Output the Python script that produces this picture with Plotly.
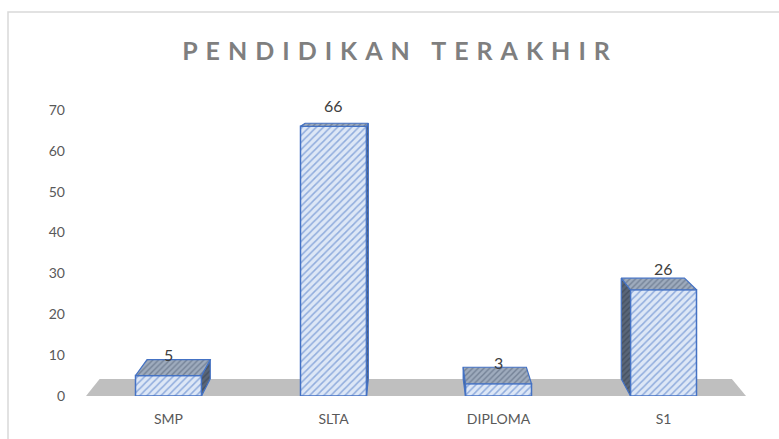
import plotly.graph_objects as go

categories = ["SMP", "SLTA", "DIPLOMA", "S1"]
values = [5, 66, 3, 26]
y_ticks = [0, 10, 20, 30, 40, 50, 60, 70]
title_text = "PENDIDIKAN TERAKHIR"

# ---- geometry helpers (pixel <-> data), used only for the 3D decoration ----
W, H = 779, 439
L, R, T, B = 86, 33, 110, 43
X_RANGE = [-0.5, len(categories) - 0.5]
Y_RANGE = [0, 70]
plot_w = W - L - R
plot_h = H - T - B
ppx = plot_w / (X_RANGE[1] - X_RANGE[0])
ppy = plot_h / (Y_RANGE[1] - Y_RANGE[0])
VX, VY = 410, 67          # vanishing point (pixels)
KX, KY = 0.042, 0.052     # depth factors
BAR_W = 0.4


def to_px(xd, yd):
    return L + (xd - X_RANGE[0]) * ppx, T + plot_h - (yd - Y_RANGE[0]) * ppy


def to_data(px, py):
    return X_RANGE[0] + (px - L) / ppx, Y_RANGE[0] + (T + plot_h - py) / ppy


def back(xd, yd):
    px, py = to_px(xd, yd)
    return to_data(px + KX * (VX - px), py - KY * (py - VY))


BLUE = "#4472c4"
fig = go.Figure()

# front faces
fig.add_trace(go.Bar(
    x=list(range(len(categories))), y=values, width=BAR_W,
    marker=dict(color="#dbe5f5", line=dict(color=BLUE, width=1.5),
                pattern=dict(shape="/", fgcolor=BLUE, bgcolor="#dde7f6",
                             size=5, solidity=0.3)),
    hoverinfo="skip", showlegend=False,
))

# side and top faces
for i, v in enumerate(values):
    xl, xr = i - BAR_W / 2, i + BAR_W / 2
    cx, _ = to_px(i, 0)
    xe = xr if cx < VX else xl
    pts = [(xe, 0), (xe, v), back(xe, v), back(xe, 0), (xe, 0)]
    fig.add_trace(go.Scatter(
        x=[p[0] for p in pts], y=[p[1] for p in pts], mode="lines",
        fill="toself", fillcolor="#5a6678",
        fillpattern=dict(shape="/", fgcolor="#2f3a4a", bgcolor="#5a6678",
                         size=4, solidity=0.35),
        line=dict(color=BLUE, width=1.2), hoverinfo="skip", showlegend=False))
    pts = [(xl, v), (xr, v), back(xr, v), back(xl, v), (xl, v)]
    fig.add_trace(go.Scatter(
        x=[p[0] for p in pts], y=[p[1] for p in pts], mode="lines",
        fill="toself", fillcolor="#9eabbd",
        fillpattern=dict(shape="/", fgcolor="#4a5970", bgcolor="#9eabbd",
                         size=4, solidity=0.35),
        line=dict(color=BLUE, width=1.2), hoverinfo="skip", showlegend=False))

# data labels
for i, v in enumerate(values):
    fig.add_annotation(x=i, y=v, text=str(v), showarrow=False, yshift=21,
                       font=dict(family="Lato", size=16, color="#404040"))

# floor
fl0, fr0 = X_RANGE[0], X_RANGE[1]
bl, br = back(fl0, 0), back(fr0, 0)
fig.add_shape(type="path", layer="below", line=dict(width=0),
              fillcolor="#bfbfbf", xref="x", yref="y",
              path=f"M {fl0},0 L {fr0},0 L {br[0]},{br[1]} L {bl[0]},{bl[1]} Z")

# chart border
fig.add_shape(type="rect", xref="paper", yref="paper",
              x0=(8 - L) / plot_w, x1=(W + 20 - L) / plot_w,
              y0=(T + plot_h - (H + 20)) / plot_h, y1=(T + plot_h - 12) / plot_h,
              line=dict(color="#d9d9d9", width=1.5), fillcolor="rgba(0,0,0,0)")

fig.update_layout(
    width=W, height=H,
    margin=dict(l=L, r=R, t=T, b=B),
    paper_bgcolor="white", plot_bgcolor="white",
    title=dict(text=title_text, x=400 / W, xanchor="center",
               y=1 - 51 / H, yanchor="middle", yref="container",
               font=dict(family="Lato", size=25, color="#7f7f7f", weight="bold")),
    xaxis=dict(range=X_RANGE, tickmode="array",
               tickvals=list(range(len(categories))), ticktext=categories,
               showgrid=False, zeroline=False, showline=False, ticks="",
               ticklabelstandoff=13,
               tickfont=dict(family="Lato", size=14, color="#595959"),
               fixedrange=True),
    yaxis=dict(range=Y_RANGE, tickmode="array", tickvals=y_ticks,
               showgrid=False, zeroline=False, showline=False, ticks="",
               ticklen=0, ticklabelstandoff=20,
               tickfont=dict(family="Lato", size=14, color="#595959"),
               fixedrange=True),
    bargap=0.6, showlegend=False,
)

fig.write_html(
    "out.html", config={"displayModeBar": False},
    post_script=("document.body.style.margin='0';"
                 "document.querySelectorAll('.gtitle').forEach(function(t){"
                 "t.setAttribute('letter-spacing','8px');});"))
